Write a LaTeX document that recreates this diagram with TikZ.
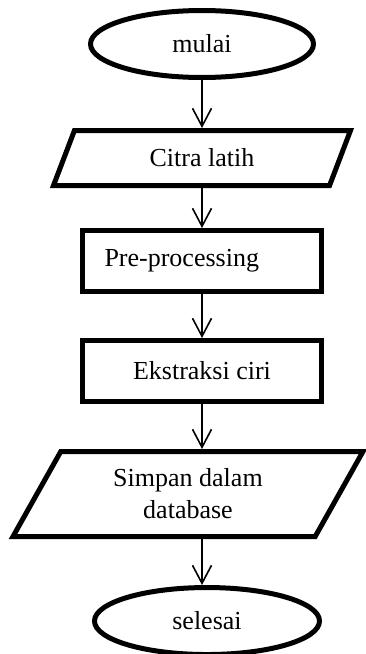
\documentclass[tikz,border=0pt]{standalone}
\usepackage{fontspec}
\setmainfont{Liberation Serif}
\usetikzlibrary{shapes.geometric, positioning, arrows.meta}
\tikzset{
  >={Straight Barb[length=18pt,width=19pt]},
  every node/.style={font=\fontsize{26}{32}\selectfont},
  terminal/.style={draw, ellipse, line width=5pt, minimum width=223pt, minimum height=67pt},
  process/.style={draw, rectangle, line width=5pt, minimum width=239pt, minimum height=61pt},
  io/.style={draw, trapezium, line width=5pt, trapezium left angle=50, trapezium right angle=130,
    trapezium stretches body, align=center},
  flow/.style={->, line width=1.6pt},
}

\begin{document}
\begin{tikzpicture}
        \useasboundingbox (0,0) rectangle (365pt,-654pt);

        % nodes
        \node[terminal] (mulai) at (202pt,-44pt) {mulai};
        \node[io, minimum width=297pt, minimum height=55pt, below=48pt of mulai] (citra) {Citra latih};
        \node[process, inner xsep=22pt, text width=195pt, align=left, below=40pt of citra] (pre) {Pre-processing};
        \node[process, below=44pt of pre] (ekstraksi) {Ekstraksi ciri};
        \node[io, minimum width=350pt, minimum height=85pt, below=45pt of ekstraksi, xshift=-14pt] (simpan) {Simpan dalam\\database};
        \node[terminal, minimum width=225pt, below=46pt of simpan, xshift=19pt] (selesai) {selesai};

        % connectors
        \draw[flow] (mulai) -- (citra);
        \draw[flow] (citra) -- (pre);
        \draw[flow] (pre) -- (ekstraksi);
        \draw[flow] (ekstraksi) -- (ekstraksi |- simpan.north);
        \draw[flow] (simpan.south -| ekstraksi) -- (ekstraksi |- selesai.north);
\end{tikzpicture}
\end{document}
